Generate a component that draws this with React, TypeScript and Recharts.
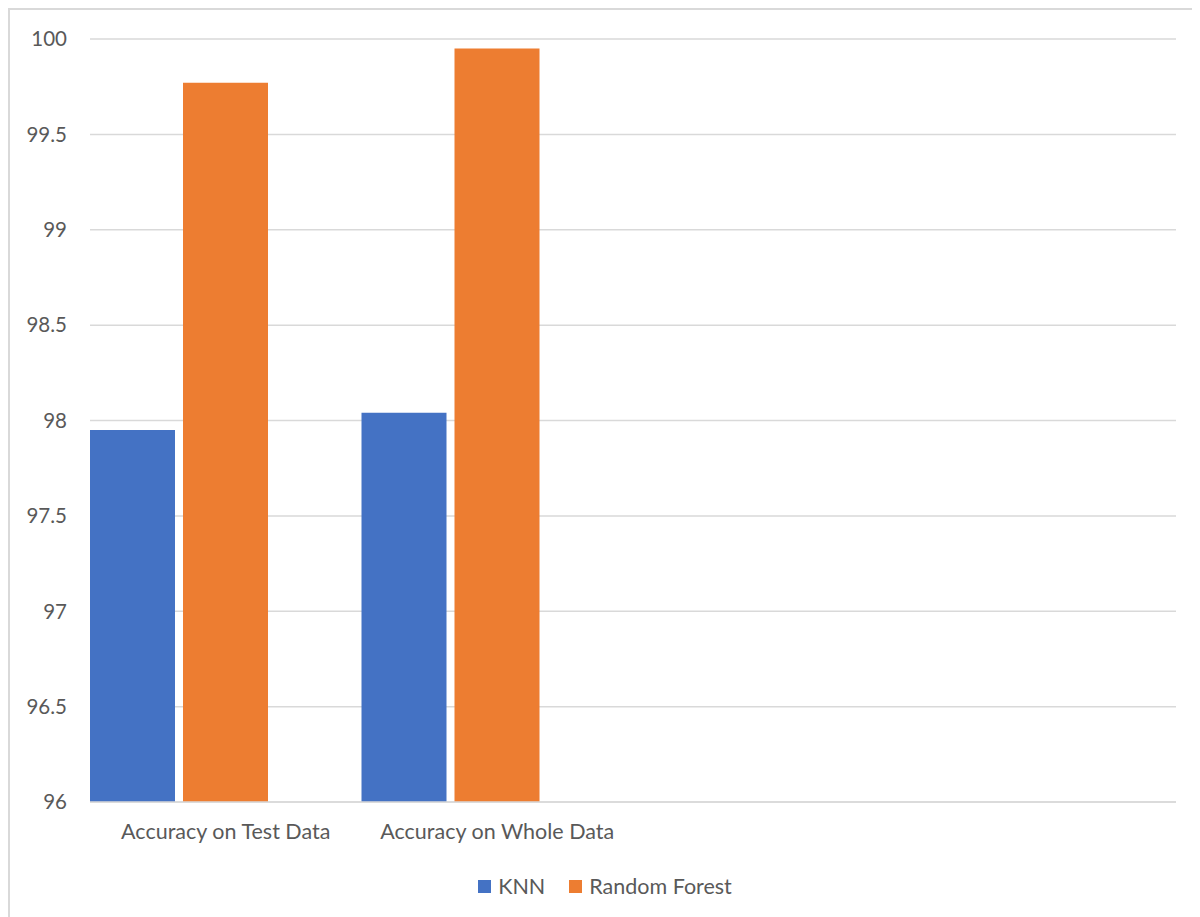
import React from 'react';
import { BarChart, Bar, XAxis, YAxis, CartesianGrid, Legend } from 'recharts';

// category labels (last two slots are empty in the source chart)
const categories = ['Accuracy on Test Data', 'Accuracy on Whole Data', '', ''];
const knnValues = [97.95, 98.04, null, null];
const forestValues = [99.77, 99.95, null, null];
const yTicks = [96, 96.5, 97, 97.5, 98, 98.5, 99, 99.5, 100];

const data = categories.map((name, i) => ({
  name,
  knn: knnValues[i],
  forest: forestValues[i],
  blank: null,
}));

const FONT = 'Lato, "Open Sans", sans-serif';
const TEXT = '#595959';

const legendItems = [
  { label: 'KNN', color: '#4472C4' },
  { label: 'Random Forest', color: '#ED7D31' },
];

const LegendBox = () => (
  <div style={{ display: 'flex', justifyContent: 'center', alignItems: 'center', height: 24, fontFamily: FONT }}>
    {legendItems.map((it, i) => (
      <div key={it.label} style={{ display: 'flex', alignItems: 'center', marginLeft: i ? 24 : 0 }}>
        <span style={{ width: 13, height: 13, background: it.color, display: 'inline-block', marginRight: 7 }} />
        <span style={{ color: TEXT, fontSize: 21.5 }}>{it.label}</span>
      </div>
    ))}
  </div>
);

const App: React.FC = () => {
  return (
    <div
      style={{
        width: 1200,
        height: 917,
        borderTop: '2px solid #d9d9d9',
        borderLeft: '2px solid #d9d9d9',
        fontFamily: FONT,
      }}
    >
      <BarChart
        width={1190}
        height={907}
        data={data}
        barCategoryGap={0}
        barGap={8}
        margin={{ top: 29, right: 24, left: 0, bottom: 41 }}
      >
        <CartesianGrid vertical={false} stroke="#d9d9d9" strokeWidth={1.5} />
        <XAxis
          dataKey="name"
          axisLine={{ stroke: '#d9d9d9', strokeWidth: 1.5 }}
          tickLine={false}
          tickMargin={16}
          height={50}
          tick={{ fill: TEXT, fontSize: 21.5, fontFamily: FONT }}
          interval={0}
        />
        <YAxis
          domain={[96, 100]}
          ticks={yTicks}
          width={80}
          axisLine={false}
          tickLine={false}
          tickSize={0}
          tickMargin={23}
          tick={{ fill: TEXT, fontSize: 20.5, fontFamily: FONT }}
        />
        <Legend verticalAlign="bottom" content={<LegendBox />} wrapperStyle={{ top: 864, left: 0, width: 1190 }} />
        <Bar dataKey="knn" name="KNN" fill="#4472C4" isAnimationActive={false} />
        <Bar dataKey="forest" name="Random Forest" fill="#ED7D31" isAnimationActive={false} />
        <Bar dataKey="blank" legendType="none" fill="#A5A5A5" isAnimationActive={false} />
      </BarChart>
    </div>
  );
};

export default App;
